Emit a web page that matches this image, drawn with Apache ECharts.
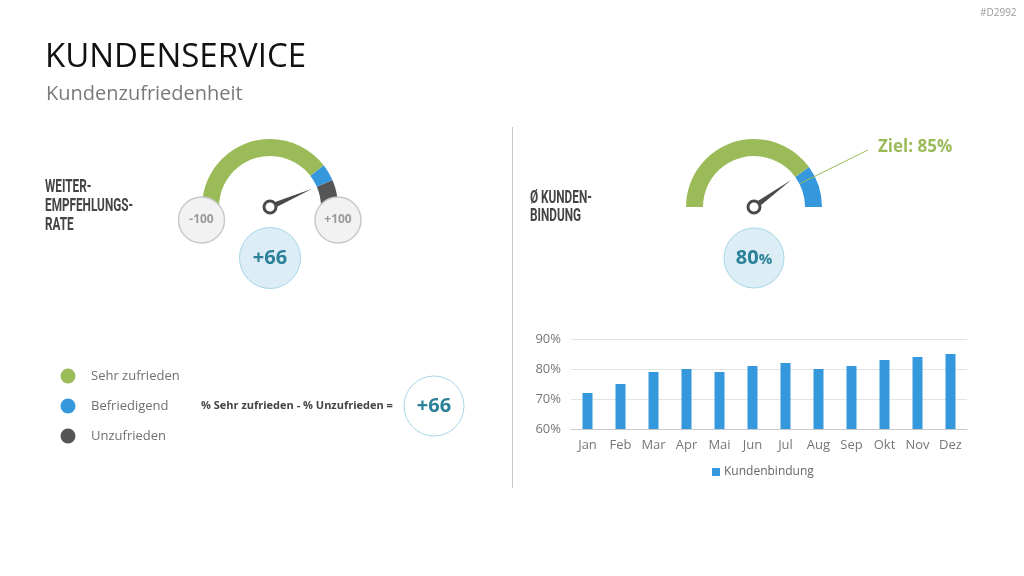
<!DOCTYPE html>
<html>
<head>
<meta charset="utf-8">
<script src="https://cdn.jsdelivr.net/npm/echarts@6/dist/echarts.min.js"></script>
<style>
  html, body { margin: 0; padding: 0; background: #fff; }
  #chart { width: 1024px; height: 576px; }
</style>
</head>
<body>
<div id="chart"></div>
<script>
// Weiterempfehlungsrate: Anteile in % (Sehr zufrieden, Befriedigend, Unzufrieden)
const anteilNamen = ['Sehr zufrieden', 'Befriedigend', 'Unzufrieden'];
const anteile = [79, 8, 13];
const npsWert = 66;          // angezeigter Wert
const npsNadel = 74;         // Nadelstellung, aus dem Bild gelesen
const npsSkala = [-100, 100];

// Kundenbindung
const bindungWert = 80;
const bindungZiel = 85;
const bindungSkala = [0, 100];

// Balkendiagramm
const monate = ['Jan', 'Feb', 'Mar', 'Apr', 'Mai', 'Jun', 'Jul', 'Aug', 'Sep', 'Okt', 'Nov', 'Dez'];
const bindungMonate = [72, 75, 79, 80, 79, 81, 82, 80, 81, 83, 84, 85];
const yAchse = { min: 60, max: 90, step: 10 };

const GRUEN = '#9bbb59';
const BLAU = '#3598dc';
const DUNKEL = '#555555';
const TEAL = '#2a8199';
const FONT = '"Open Sans", "Noto Sans", sans-serif';
const NARROW = 'Roboto, "Open Sans", sans-serif';

const chart = echarts.init(document.getElementById('chart'));

// Farbstopps der linken Skala aus den Anteilen
const summe = anteile.reduce((a, b) => a + b, 0);
let kum = 0;
const farben = [GRUEN, BLAU, DUNKEL];
const linksStopps = anteile.map((v, i) => {
    kum += v;
    return [kum / summe, farben[i]];
});

const zeiger = {
    icon: 'path://M5,0 L10,100 L0,100 Z',
    length: 46,
    width: 6,
    itemStyle: { color: '#4a4a4a' }
};
const anker = {
    show: true,
    showAbove: true,
    size: 12,
    itemStyle: { color: '#fff', borderColor: '#4a4a4a', borderWidth: 3 }
};

function gauge(center, min, max, stopps, wert) {
    return {
        type: 'gauge',
        center: center,
        radius: 68,
        startAngle: 180,
        endAngle: 0,
        min: min,
        max: max,
        axisLine: { lineStyle: { width: 17, color: stopps } },
        axisTick: { show: false },
        splitLine: { show: false },
        axisLabel: { show: false },
        pointer: zeiger,
        anchor: anker,
        title: { show: false },
        detail: { show: false },
        data: [{ value: wert }]
    };
}

// Ziel-Linie am Bogen
const rc = [754, 207];
const zielWinkel = Math.PI * (1 - (bindungZiel - bindungSkala[0]) / (bindungSkala[1] - bindungSkala[0]));
const zielPunkt = [rc[0] + 52 * Math.cos(zielWinkel), rc[1] - 52 * Math.sin(zielWinkel)];

function kreis(cx, cy, r, fill, stroke, lw) {
    return { type: 'circle', z: 10, shape: { cx: cx, cy: cy, r: r }, style: { fill: fill, stroke: stroke, lineWidth: lw } };
}
function mitteText(x, y, text, size, color, weight) {
    return {
        type: 'text', z: 11, x: x, y: y,
        style: { text: text, fontSize: size, fontWeight: weight || 'bold', fill: color, fontFamily: FONT, align: 'center', verticalAlign: 'middle' }
    };
}

const legendeY = [376, 406, 436];
const legendeGrafik = [];
anteilNamen.forEach((name, i) => {
    legendeGrafik.push({ type: 'circle', shape: { cx: 68, cy: legendeY[i], r: 7.5 }, style: { fill: farben[i] } });
    legendeGrafik.push({
        type: 'text', x: 91, y: legendeY[i],
        style: { text: name, fontSize: 13, fill: '#707070', fontFamily: FONT, verticalAlign: 'middle' }
    });
});

chart.setOption({
    animation: false,
    textStyle: { fontFamily: FONT },
    graphic: [
        { type: 'text', x: 980, y: 8, style: { text: '#D2992', fontSize: 10, fill: '#9a9a9a', fontFamily: FONT } },
        { type: 'text', x: 45, y: 41, style: { text: 'KUNDENSERVICE', fontSize: 33, fill: '#111', fontFamily: FONT } },
        { type: 'text', x: 46, y: 84, style: { text: 'Kundenzufriedenheit', fontSize: 20, fill: '#7a7a7a', fontFamily: FONT } },
        { type: 'line', shape: { x1: 512.5, y1: 127, x2: 512.5, y2: 488 }, style: { stroke: '#c8c8c8', lineWidth: 1 } },
        {
            type: 'text', x: 45, y: 178, scaleX: 0.62,
            style: { text: 'WEITER-\nEMPFEHLUNGS-\nRATE', fontSize: 19, lineHeight: 19, fontWeight: 'bold', fill: '#444', fontFamily: NARROW }
        },
        {
            type: 'text', x: 530, y: 189, scaleX: 0.62,
            style: { text: 'Ø KUNDEN-\nBINDUNG', fontSize: 19, lineHeight: 18, fontWeight: 'bold', fill: '#444', fontFamily: NARROW }
        },
        // Skalenenden links
        kreis(201.5, 220, 23, '#f2f2f2', '#c9c9c9', 1.5),
        mitteText(201.5, 220, '-100', 12, '#9a9a9a'),
        kreis(338, 220, 23, '#f2f2f2', '#c9c9c9', 1.5),
        mitteText(338, 220, '+100', 12, '#9a9a9a'),
        // Wertkreise
        kreis(270, 258, 30.5, '#dcedf5', '#a8d5e6', 1),
        mitteText(270, 258, '+' + npsWert, 20, TEAL),
        kreis(754, 258, 30, '#dcedf5', '#a8d5e6', 1),
        {
            type: 'text', z: 11, x: 754, y: 258,
            style: {
                text: '{a|' + bindungWert + '}{b|%}', align: 'center', verticalAlign: 'middle',
                rich: {
                    a: { fontSize: 20, fontWeight: 'bold', fill: TEAL, fontFamily: FONT },
                    b: { fontSize: 15, fontWeight: 'bold', fill: TEAL, fontFamily: FONT, padding: [3, 0, 0, 0] }
                }
            }
        },
        ...legendeGrafik,
        {
            type: 'text', x: 201, y: 406,
            style: { text: '% Sehr zufrieden - % Unzufrieden =', fontSize: 11, fontWeight: 'bold', fill: '#444', fontFamily: FONT, verticalAlign: 'middle' }
        },
        kreis(434, 406, 30, '#fff', '#a8d5e6', 1),
        mitteText(434, 406, '+' + npsWert, 20, TEAL),
        // Ziel
        { type: 'line', z: 5, shape: { x1: zielPunkt[0], y1: zielPunkt[1], x2: 868, y2: 150 }, style: { stroke: GRUEN, lineWidth: 1 } },
        {
            type: 'text', x: 878, y: 147,
            style: { text: 'Ziel: ' + bindungZiel + '%', fontSize: 17, fontWeight: 'bold', fill: GRUEN, fontFamily: FONT, verticalAlign: 'middle' }
        }
    ],
    legend: {
        data: ['Kundenbindung'],
        left: 707,
        top: 461,
        icon: 'rect',
        itemWidth: 8,
        itemHeight: 8,
        itemGap: 4,
        textStyle: { fontSize: 12, color: '#666', fontFamily: FONT, padding: [0, 0, 0, -1] }
    },
    grid: { left: 571, right: 57, top: 339, bottom: 147 },
    xAxis: {
        type: 'category',
        data: monate,
        axisLine: { lineStyle: { color: '#c8c8c8' } },
        axisTick: { show: false },
        axisLabel: { color: '#777', fontSize: 13, margin: 10 }
    },
    yAxis: {
        type: 'value',
        min: yAchse.min,
        max: yAchse.max,
        interval: yAchse.step,
        axisLine: { show: false },
        axisTick: { show: false },
        splitLine: { lineStyle: { color: '#e4e4e4' } },
        axisLabel: { color: '#777', fontSize: 13, margin: 10, formatter: '{value}%' }
    },
    series: [
        gauge([270, 207], npsSkala[0], npsSkala[1], linksStopps, npsNadel),
        gauge(rc, bindungSkala[0], bindungSkala[1], [[bindungWert / 100, GRUEN], [1, BLAU]], bindungWert),
        {
            name: 'Kundenbindung',
            type: 'bar',
            data: bindungMonate,
            barWidth: 10,
            itemStyle: { color: BLAU }
        }
    ]
});
</script>
</body>
</html>
